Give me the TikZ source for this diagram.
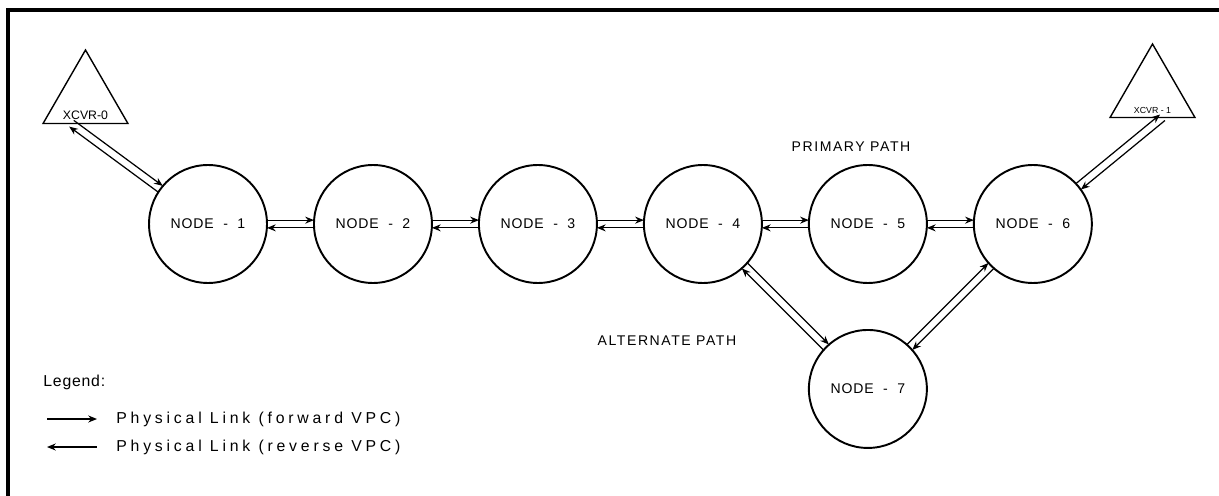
\documentclass[tikz,border=0pt]{standalone}
\usepackage{fontspec}
\setmainfont{Liberation Sans}
\usetikzlibrary{shapes.geometric, arrows.meta, positioning, calc}

\newcommand\spaced[1]{\addfontfeature{LetterSpace=#1}}

\begin{document}
\begin{tikzpicture}[
    x=0.02cm, y=-0.02cm,
    node distance = 0.94cm,
    site/.style      = {circle, draw, line width=1.1pt, minimum size=2.36cm,
                        inner sep=0pt, outer sep=0pt,
                        font=\fontsize{8}{9}\selectfont\spaced{6}},
    xcvr/.style      = {regular polygon, regular polygon sides=3, draw, line width=0.8pt,
                        minimum size=1.96cm, inner sep=0pt, outer sep=0pt},
    xcvrname/.style  = {inner sep=0pt},
    pathlabel/.style = {inner sep=0pt, font=\fontsize{8}{9}\selectfont\spaced{11}},
    legendtext/.style = {anchor=west, inner sep=0pt,
                        font=\fontsize{9}{10}\selectfont\spaced{24}},
    fwd/.style       = {-{Stealth[length=5pt, width=4pt]}, line width=0.7pt},
    rev/.style       = {{Stealth[length=5pt, width=4pt]}-, line width=0.7pt},
]
\useasboundingbox (0,0) rectangle (1219,496);
\draw[line width=2.2pt] (8,496) -- (8,10) -- (1219,10);

\node[site]                 (n1) at (208,224) {NODE\ \ -\ \ 1};
\node[site, right=of n1]    (n2) {NODE\ \ -\ \ 2};
\node[site, right=of n2]    (n3) {NODE\ \ -\ \ 3};
\node[site, right=of n3]    (n4) {NODE\ \ -\ \ 4};
\node[site, right=of n4]    (n5) {NODE\ \ -\ \ 5};
\node[site, right=of n5]    (n6) {NODE\ \ -\ \ 6};
\node[site, below=of n5]    (n7) {NODE\ \ -\ \ 7};

\node[xcvr] (xcvr0) at (85.5,99) {};
\node[xcvr] (xcvr1) at (1152.5,93) {};
\node[xcvrname, font=\fontsize{7}{8}\selectfont, above=2pt of xcvr0.side 2] (x0name) {XCVR-0};
\node[xcvrname, font=\fontsize{5}{6}\selectfont, above=2pt of xcvr1.side 2] (x1name) {XCVR - 1};
\coordinate (x0port) at ($(xcvr0.side 2)+(-14,0)$);
\coordinate (x1port) at ($(xcvr1.side 2)+(10,0)$);

\node[pathlabel] (primary)   at (851,147) {PRIMARY PATH};
\node[pathlabel] (alternate) at (667,341) {ALTERNATE PATH};

% each link: forward VPC on the left of a->b, reverse VPC on the right
\foreach \a/\b in {x0port/n1, n1/n2, n2/n3, n3/n4, n4/n5, n5/n6, n6/x1port, n4/n7, n7/n6}{
  \path let \p1 = ($(\b)-(\a)$) in
    \pgfextra{\pgfmathparse{atan2(\y1,\x1)+90}\xdef\perpang{\pgfmathresult}};
  \draw[fwd, transform canvas={shift={(\perpang:2.2pt)}}]  (\a) -- (\b);
  \draw[rev, transform canvas={shift={(\perpang:-2.2pt)}}] (\a) -- (\b);
}

\node[legendtext, font=\fontsize{9}{10}\selectfont\spaced{5}] (legend) at (43,382) {Legend:};
\coordinate (fwdA) at (47,419);
\coordinate (fwdB) at (97,419);
\coordinate (revA) at (47,447);
\coordinate (revB) at (97,447);
\draw[fwd] (fwdA) -- (fwdB);
\draw[rev] (revA) -- (revB);
\node[legendtext] (fwdtext) at (116,419) {Physical Link (forward VPC)};
\node[legendtext] (revtext) at (116,447) {Physical Link (reverse VPC)};

\end{tikzpicture}
\end{document}
